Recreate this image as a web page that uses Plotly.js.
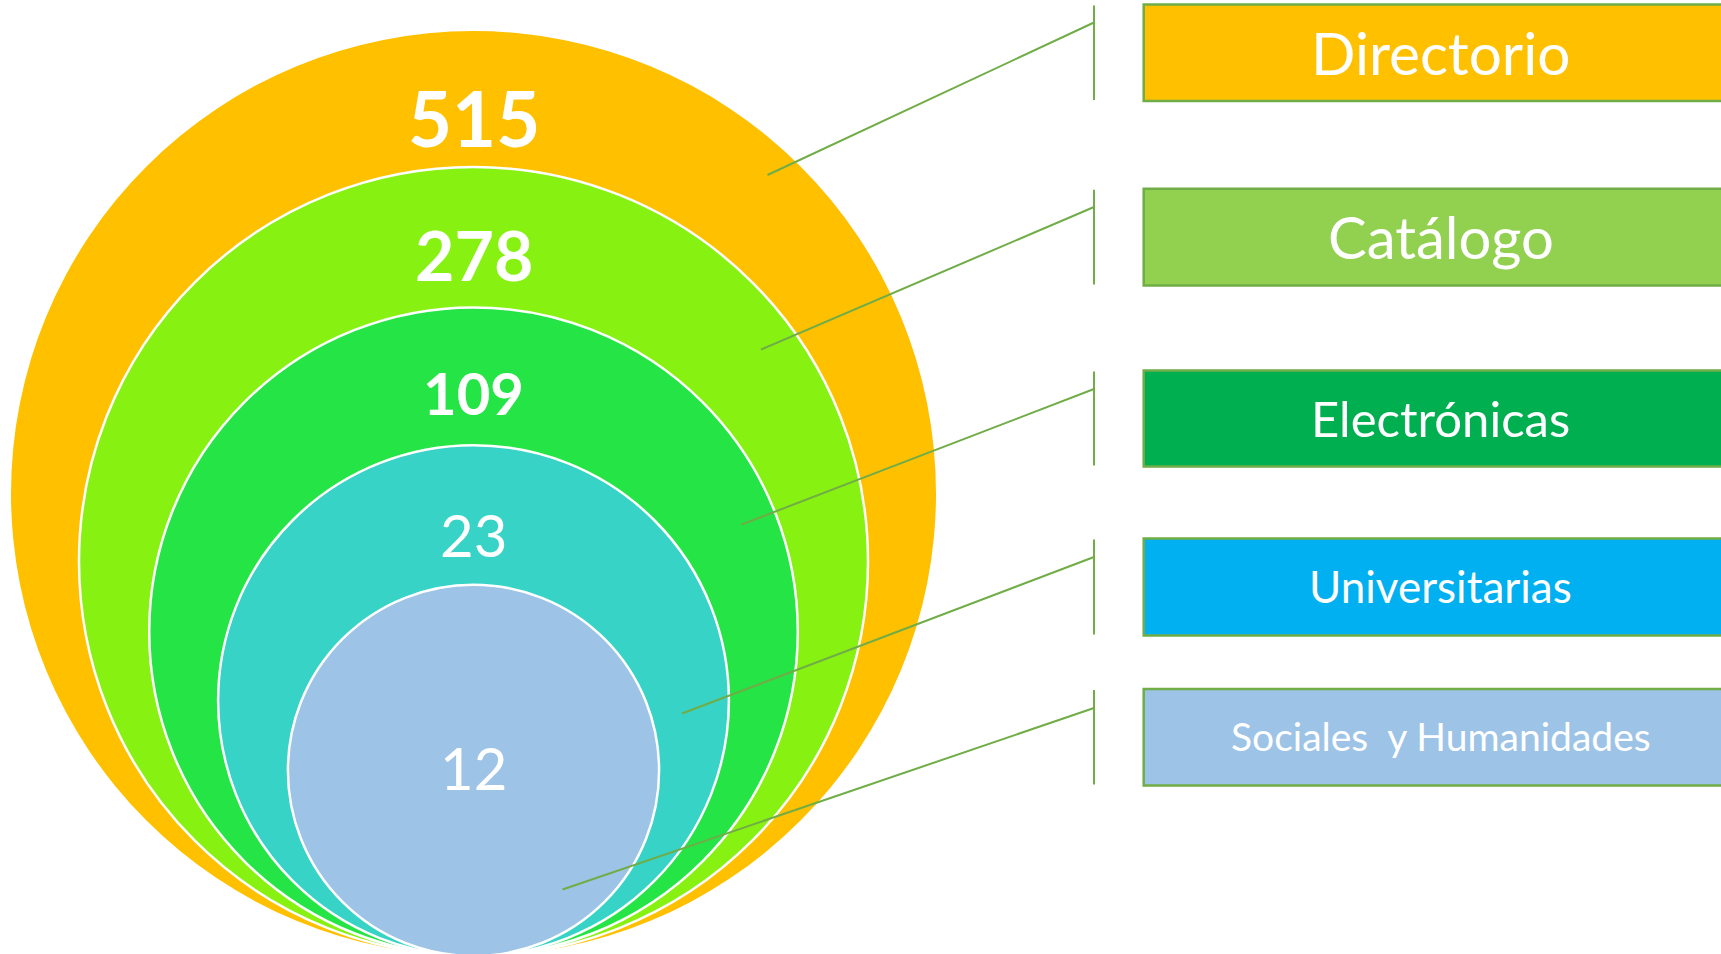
<!DOCTYPE html>
<html>
<head>
<meta charset="utf-8">
<script src="https://cdn.plot.ly/plotly-3.0.1.min.js"></script>
<style>
  html, body { margin: 0; padding: 0; background: #ffffff; }
  #chart { width: 1721px; height: 954px; }
</style>
</head>
<body>
<div id="chart"></div>
<script>
// ---- Data ----
const categories = ["Directorio", "Catálogo", "Electrónicas", "Universitarias", "Sociales  y Humanidades"];
const values = [515, 278, 109, 23, 12];

// ---- Styles ----
const circleColors = ["#FFC000", "#87F112", "#24E446", "#36D3C6", "#9DC3E6"];
const boxColors = ["#FFC000", "#92D050", "#00B050", "#00B0F0", "#9DC3E6"];
const valueBold = [true, true, true, false, false];
const valueFontSizes = [76, 68, 58, 58, 58];
const boxFontSizes = [58.5, 58, 49, 44, 39];
const lineColor = "#70AD47";

// ---- Layout geometry (in axis units = pixels) ----
const W = 1721, H = 954;
const circleCx = 473.5;
const circleBottom = 956;
const circleRadii = [462.5, 394.5, 324.3, 255.4, 185.6];
const valueY = [117, 254, 392.5, 534.5, 767.5];
const boxX0 = 1143.7, boxX1 = 1738;
const boxTop = [4.4, 188.8, 370.5, 538.5, 689];
const boxBottom = [101, 285.5, 466.5, 635.5, 785.5];
const connX = 1094;
const connJoinY = [22.5, 207, 389, 557, 708];
const connEnd = [[767.5, 175], [761, 349.5], [741.5, 524.5], [682, 713.5], [562.5, 889.5]];

const shapes = [];
const annotations = [];

// circles
circleRadii.forEach((r, i) => {
  const cy = circleBottom - r;
  shapes.push({
    type: "circle", xref: "x", yref: "y", layer: "above",
    x0: circleCx - r, x1: circleCx + r, y0: cy - r, y1: cy + r,
    fillcolor: circleColors[i],
    line: { color: i === 0 ? circleColors[i] : "#FFFFFF", width: i === 0 ? 0 : 2.5 }
  });
});

// value labels
values.forEach((v, i) => {
  annotations.push({
    xref: "x", yref: "y", x: circleCx, y: valueY[i],
    xanchor: "center", yanchor: "middle", showarrow: false,
    text: valueBold[i] ? "<b>" + v + "</b>" : String(v),
    font: { family: "Lato, 'Open Sans', sans-serif", size: valueFontSizes[i], color: "#FFFFFF" }
  });
});

// boxes, connectors, box labels
categories.forEach((c, i) => {
  shapes.push({
    type: "rect", xref: "x", yref: "y", layer: "above",
    x0: boxX0, x1: boxX1, y0: boxTop[i], y1: boxBottom[i],
    fillcolor: boxColors[i],
    line: { color: lineColor, width: 2.5 }
  });
  shapes.push({
    type: "line", xref: "x", yref: "y", layer: "above",
    x0: connX, x1: connX, y0: boxTop[i] + 1, y1: boxBottom[i] - 1,
    line: { color: lineColor, width: 2 }
  });
  shapes.push({
    type: "line", xref: "x", yref: "y", layer: "above",
    x0: connX, y0: connJoinY[i], x1: connEnd[i][0], y1: connEnd[i][1],
    line: { color: lineColor, width: 2 }
  });
  annotations.push({
    xref: "x", yref: "y", x: (boxX0 + boxX1) / 2, y: (boxTop[i] + boxBottom[i]) / 2 - 1,
    xanchor: "center", yanchor: "middle", showarrow: false,
    text: c.replace(/  /g, "&nbsp; "),
    font: { family: "Lato, 'Open Sans', sans-serif", size: boxFontSizes[i], color: "#FFFFFF" }
  });
});

const layout = {
  width: W, height: H,
  margin: { l: 0, r: 0, t: 0, b: 0, pad: 0 },
  paper_bgcolor: "#FFFFFF", plot_bgcolor: "#FFFFFF",
  xaxis: { range: [0, W], visible: false, fixedrange: true },
  yaxis: { range: [H, 0], visible: false, fixedrange: true },
  showlegend: false,
  shapes: shapes,
  annotations: annotations
};

Plotly.newPlot("chart", [{ x: [], y: [], type: "scatter", mode: "markers", hoverinfo: "skip" }], layout,
  { displayModeBar: false, staticPlot: true });
</script>
</body>
</html>
